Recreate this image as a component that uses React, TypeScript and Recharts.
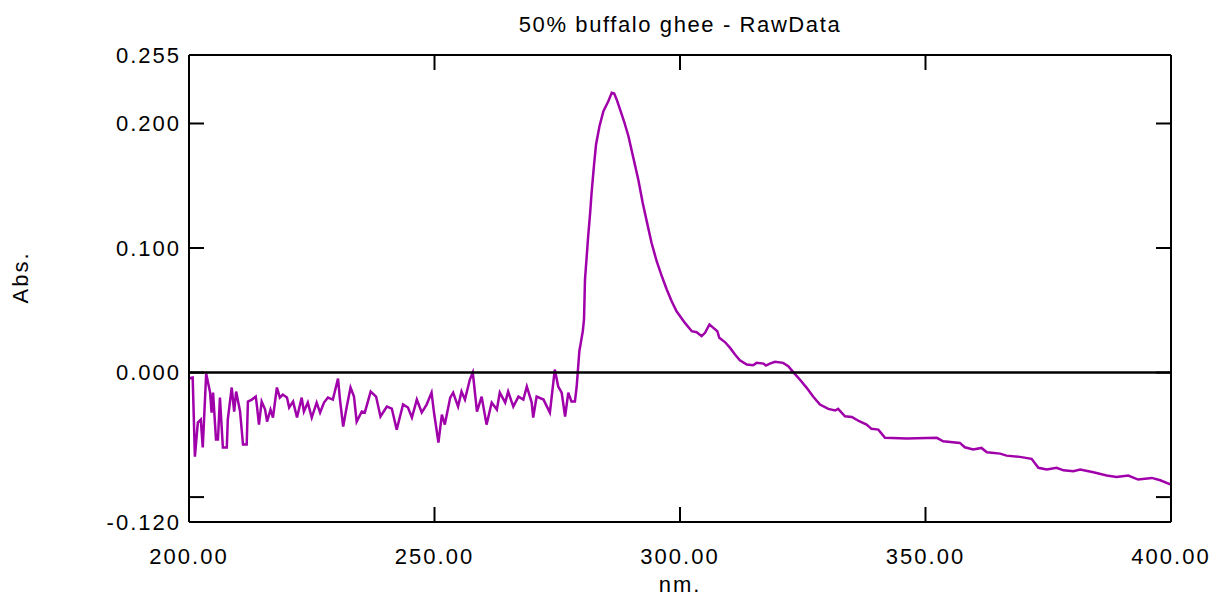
import { LineChart, Line, XAxis, YAxis, ReferenceLine } from 'recharts';

// wavelength (nm) and absorbance in three stretches
const baselineNm = [
  200.0, 200.75, 201.2, 201.8, 202.4, 202.8, 203.5, 204.3, 204.6, 204.9,
  205.5, 205.9, 206.3, 206.9, 207.7, 207.9, 208.7, 209.2, 209.6, 210.4,
  211.0, 211.75, 212.0, 212.8, 213.6, 213.85, 214.25, 214.8, 215.5, 215.9,
  216.6, 217.1, 217.9, 218.5, 219.1, 219.95, 220.4, 221.2, 222.0, 222.95,
  223.4, 224.2, 225.0, 226.0, 226.7, 227.5, 228.3, 229.3, 230.35, 230.75,
  231.4, 232.1, 232.9, 233.6, 234.15, 235.2, 235.8, 237.0, 238.1, 239.0,
  240.3, 241.3, 242.3, 243.6, 244.6, 245.4, 246.4, 247.4, 248.4, 249.4,
  249.9, 250.8, 251.5, 252.1, 253.2, 253.8, 254.8, 255.5, 256.2, 257.2,
  257.8, 258.65, 259.6, 260.6, 261.65, 262.7, 263.3, 264.4, 265.0, 266.05,
  267.1, 268.1, 268.8, 269.8, 270.1, 270.8, 272.2, 273.5, 274.5, 275.2,
  275.9, 276.6, 277.25, 277.9, 278.6,
];
const baselineAbs = [
  -0.0045, -0.004, -0.0675, -0.0402, -0.0378, -0.0602, -0.0008, -0.0161, -0.0321, -0.0161,
  -0.0538, -0.0538, -0.0201, -0.0602, -0.0602, -0.0378, -0.012, -0.0313, -0.0153, -0.0313,
  -0.0578, -0.0578, -0.0233, -0.0217, -0.0193, -0.0273, -0.0418, -0.0233, -0.0297, -0.0394,
  -0.0297, -0.0361, -0.012, -0.0201, -0.0177, -0.0201, -0.0281, -0.0233, -0.0361, -0.0201,
  -0.0313, -0.0241, -0.0361, -0.0241, -0.0321, -0.0241, -0.0201, -0.0217, -0.0048, -0.0217,
  -0.0434, -0.0281, -0.012, -0.0193, -0.0394, -0.0313, -0.0321, -0.0153, -0.0193, -0.0353,
  -0.0273, -0.0289, -0.0458, -0.0257, -0.0281, -0.0361, -0.0217, -0.0321, -0.0257, -0.0161,
  -0.0321, -0.0562, -0.0337, -0.0418, -0.0201, -0.0161, -0.0273, -0.0153, -0.0217, -0.0056,
  0.0, -0.0313, -0.0193, -0.0418, -0.0241, -0.0297, -0.0161, -0.0241, -0.0153, -0.0273,
  -0.0193, -0.0217, -0.0112, -0.0241, -0.0361, -0.0193, -0.0217, -0.0321, 0.0024, -0.0112,
  -0.0161, -0.0353, -0.0161, -0.0233, -0.0233,
];

const peakNm = [
  278.96, 279.5, 280.2, 280.45, 280.65, 281.3, 281.7, 282.0, 282.5, 282.9,
  283.6, 284.4, 285.4, 286.1, 286.6, 287.1, 287.8, 288.6, 289.5, 290.5,
  291.5, 292.4, 293.3, 294.2, 295.25, 296.3, 297.3, 298.3, 299.3, 301.0,
  302.4, 303.4, 304.4, 305.1, 306.0, 306.8, 307.6, 308.0, 309.2, 310.2,
  311.2, 312.2, 313.6, 314.9, 315.6, 317.0, 317.5, 318.3, 319.35, 321.0,
  322.05, 323.1,
];
const peakAbs = [
  -0.011, 0.0171, 0.0332, 0.0426, 0.0747, 0.1095, 0.1283, 0.1446, 0.1671, 0.1831,
  0.1978, 0.2099, 0.2179, 0.2247, 0.2241, 0.2193, 0.2112, 0.2018, 0.1898, 0.1724,
  0.155, 0.1363, 0.1202, 0.1042, 0.0894, 0.0773, 0.0667, 0.0573, 0.0492, 0.0399,
  0.0332, 0.0324, 0.0292, 0.0319, 0.0386, 0.0359, 0.0332, 0.0279, 0.0243, 0.0198,
  0.0145, 0.0099, 0.0064, 0.0059, 0.0078, 0.0072, 0.0056, 0.0072, 0.0086, 0.0078,
  0.0051, 0.0002,
];

const tailNm = [
  324.4, 325.8, 327.15, 328.5, 330.2, 331.6, 332.2, 333.6, 335.0, 336.5,
  338.0, 339.0, 340.4, 341.75, 346.2, 352.3, 353.6, 357.0, 358.0, 359.7,
  361.4, 362.5, 365.2, 366.5, 369.2, 371.6, 373.0, 374.7, 376.7, 378.1,
  380.1, 381.5, 384.2, 386.9, 388.9, 391.3, 393.3, 396.1, 397.8, 400.0,
];
const tailAbs = [
  -0.0056, -0.0123, -0.0195, -0.0257, -0.0292, -0.0305, -0.0292, -0.0351, -0.0356, -0.0391,
  -0.0418, -0.0452, -0.0458, -0.0524, -0.053, -0.0524, -0.0552, -0.0565, -0.06, -0.0618,
  -0.0605, -0.064, -0.0651, -0.0667, -0.0677, -0.0693, -0.0765, -0.0779, -0.0765, -0.0785,
  -0.0793, -0.0779, -0.0801, -0.0827, -0.0838, -0.0827, -0.0859, -0.0846, -0.0865, -0.09,
];

const xTicks = [200, 250, 300, 350, 400];
const xInnerTicks = [250, 300, 350];
const yTicks = [-0.12, 0, 0.1, 0.2, 0.255];
const yInnerTicks = [-0.1, 0, 0.1, 0.2];

const nm = [...baselineNm, ...peakNm, ...tailNm];
const abs = [...baselineAbs, ...peakAbs, ...tailAbs];
const data = nm.map((x, i) => ({ nm: x, abs: abs[i] }));

const FONT = '"Liberation Sans", Arial, sans-serif';
const textStyle = { fontFamily: FONT, fontSize: 22, fill: '#000', letterSpacing: '2px' };
const inkLine = { stroke: '#000', strokeWidth: 2 };
const noLabel = () => <g />;

export default function App() {
  return (
    <div style={{ position: 'absolute', left: 0, top: 0, width: 1216, height: 598, background: '#fff' }}>
      <div
        style={{
          position: 'absolute',
          left: 189,
          width: 982,
          top: 13,
          textAlign: 'center',
          fontFamily: FONT,
          fontSize: 22,
          lineHeight: '24px',
          letterSpacing: '1.6px',
          color: '#000',
        }}
      >
        50% buffalo ghee - RawData
      </div>
      <LineChart width={1216} height={598} data={data} margin={{ top: 55, right: 45, bottom: 0, left: 0 }}>
        <XAxis
          xAxisId="x"
          dataKey="nm"
          type="number"
          domain={[200, 400]}
          ticks={xTicks}
          tickFormatter={(v: number) => v.toFixed(2)}
          height={76}
          tickSize={0}
          tickMargin={26}
          tickLine={false}
          axisLine={inkLine}
          tick={textStyle}
          label={{
            content: (p: any) => {
              const vb = p.viewBox || {};
              return (
                <text x={vb.x + vb.width / 2} y={vb.y + 70} textAnchor="middle" style={textStyle}>
                  nm.
                </text>
              );
            },
          }}
        />
        <XAxis
          xAxisId="xb"
          dataKey="nm"
          orientation="bottom"
          mirror
          type="number"
          domain={[200, 400]}
          ticks={xInnerTicks}
          tickSize={15}
          tick={noLabel}
          axisLine={false}
          tickLine={inkLine}
        />
        <XAxis
          xAxisId="xt"
          dataKey="nm"
          orientation="top"
          mirror
          type="number"
          domain={[200, 400]}
          ticks={xInnerTicks}
          tickSize={15}
          tick={noLabel}
          axisLine={inkLine}
          tickLine={inkLine}
        />
        <YAxis
          yAxisId="y"
          type="number"
          domain={[-0.12, 0.255]}
          allowDataOverflow
          ticks={yTicks}
          tickFormatter={(v: number) => v.toFixed(3)}
          width={189}
          tickSize={0}
          tickMargin={8}
          tickLine={false}
          axisLine={inkLine}
          tick={textStyle}
          label={{
            content: (p: any) => {
              const vb = p.viewBox || {};
              const cx = 22;
              const cy = vb.y + vb.height / 2 - 11;
              return (
                <text x={cx} y={cy} transform={`rotate(-90 ${cx} ${cy})`} textAnchor="middle" dominantBaseline="middle" style={textStyle}>
                  Abs.
                </text>
              );
            },
          }}
        />
        <YAxis
          yAxisId="yl"
          orientation="left"
          mirror
          type="number"
          domain={[-0.12, 0.255]}
          allowDataOverflow
          ticks={yInnerTicks}
          tickSize={15}
          tick={noLabel}
          axisLine={false}
          tickLine={inkLine}
        />
        <YAxis
          yAxisId="yr"
          orientation="right"
          mirror
          type="number"
          domain={[-0.12, 0.255]}
          allowDataOverflow
          ticks={yInnerTicks}
          tickSize={15}
          tick={noLabel}
          axisLine={inkLine}
          tickLine={inkLine}
        />
        <Line
          xAxisId="x"
          yAxisId="y"
          type="linear"
          dataKey="abs"
          stroke="#a000aa"
          strokeWidth={2.5}
          dot={false}
          isAnimationActive={false}
        />
        <ReferenceLine xAxisId="x" yAxisId="y" y={0} stroke="#000" strokeWidth={2.5} />
      </LineChart>
    </div>
  );
}
